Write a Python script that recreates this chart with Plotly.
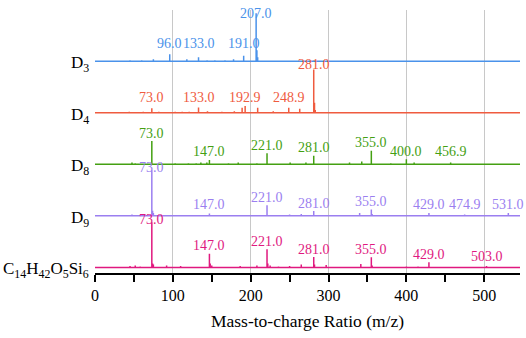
import plotly.graph_objects as go

# ---------------- data ----------------
names = ["C<sub>14</sub>H<sub>42</sub>O<sub>5</sub>Si<sub>6</sub>", "D<sub>9</sub>", "D<sub>8</sub>", "D<sub>4</sub>", "D<sub>3</sub>"]
colors = ["#e0197f", "#9b7ff0", "#44a012", "#ef5b3f", "#4a92ea"]

c14_mz = [45, 51.7, 58, 73, 74, 75, 92, 110, 147, 148, 150, 186.5, 208, 221, 222, 225, 235.7, 250, 265, 281, 282, 297, 341.5, 355, 356, 400, 415, 429, 503]
c14_int = [3, 4, 2, 94, 8, 6, 4, 3, 28.5, 8, 4, 3, 4, 38, 8, 4, 2, 3, 6, 21.5, 6, 5, 7, 21, 4, 2, 2, 10.5, 3]
c14_labels = [73.0, 147.0, 221.0, 281.0, 355.0, 429.0, 503.0]

d9_mz = [47.5, 58, 73, 74, 75, 109.5, 147, 182, 221, 250, 265, 281, 327, 340, 355, 356, 402, 429, 474.9, 531]
d9_int = [3, 2, 95, 10.5, 6, 2, 5, 2, 22, 3, 4, 10, 2, 6, 13, 4, 2, 6, 3, 6]
d9_labels = [73.0, 147.0, 221.0, 281.0, 355.0, 429.0, 474.9, 531.0]

d8_mz = [47.5, 51.7, 73, 103, 120, 130, 136, 143.7, 147, 171.5, 184, 208, 221, 250.7, 271, 281, 327, 342.7, 355, 380, 400, 410, 456.9]
d8_int = [4, 2, 48.5, 2, 2, 2, 4, 4, 9, 2, 4, 2, 23, 4, 4, 18, 4, 6, 28.5, 2, 10.5, 4, 4]
d8_labels = [73.0, 147.0, 221.0, 281.0, 355.0, 400.0, 456.9]

d4_mz = [44, 62, 73, 82, 103, 112, 121, 133, 144.5, 163, 179, 189, 192.9, 209, 229, 248.9, 263, 281, 282, 283]
d4_int = [2, 2, 9.5, 2, 2, 2, 2, 11, 3, 2, 3, 10.5, 14, 10.5, 3, 10.5, 8.5, 90, 21, 6]
d4_labels = [73.0, 133.0, 192.9, 248.9, 281.0]

d3_mz = [45, 60, 75, 96, 118, 133, 144, 154, 167, 178, 191, 207, 208, 209]
d3_int = [2, 2, 4, 14.5, 4, 8.5, 2, 2, 2, 4, 11.5, 100, 23, 8]
d3_labels = [96.0, 133.0, 191.0, 207.0]

x_ticks = [0, 100, 200, 300, 400, 500]
x_title = "Mass-to-charge Ratio (m/z)"

spectra = [
    (c14_mz, c14_int, c14_labels),
    (d9_mz, d9_int, d9_labels),
    (d8_mz, d8_int, d8_labels),
    (d4_mz, d4_int, d4_labels),
    (d3_mz, d3_int, d3_labels),
]

# ---------------- layout parameters ----------------
X_MAX = 546
BASE0 = 11.7
SPACING = 107.5
Y_TOP = 548.5
LABEL_PAD = 16.7
LABEL_CAP = 100
LABEL_MIN = [6, 7.5, 10.5, 14.5, 21]
FONT = "Liberation Serif, Times New Roman, serif"

fig = go.Figure()
annotations = []

for i, ((mz, inten, labels), name, col) in enumerate(zip(spectra, names, colors)):
    off = BASE0 + SPACING * i
    xs, ys = [0], [off]
    for m, h in sorted(zip(mz, inten)):
        xs += [m, m, m]
        ys += [off, off + h, off]
    xs.append(X_MAX)
    ys.append(off)
    fig.add_trace(go.Scatter(x=xs, y=ys, mode="lines", line=dict(color=col, width=1.5),
                             showlegend=False, hoverinfo="skip"))
    for lab in labels:
        j = min(range(len(mz)), key=lambda k: abs(mz[k] - lab))
        h = inten[j]
        yc = off + min(max(h, LABEL_MIN[i]) + LABEL_PAD, LABEL_CAP)
        annotations.append(dict(x=lab, y=yc, xref="x", yref="y", text=f"{lab:.1f}",
                                showarrow=False, xanchor="center", yanchor="middle",
                                font=dict(family=FONT, size=14, color=col)))
    annotations.append(dict(x=0, y=off, xref="paper", yref="y", text=name,
                            showarrow=False, xanchor="right", yanchor="middle",
                            xshift=-4, yshift=-3,
                            font=dict(family=FONT, size=17, color="black")))

fig.update_layout(
    width=526, height=338,
    margin=dict(l=95, r=6, t=10, b=65),
    paper_bgcolor="white", plot_bgcolor="white",
    annotations=annotations,
    font=dict(family=FONT, color="black"),
    xaxis=dict(range=[0, X_MAX], tickvals=x_ticks, ticktext=[str(v) for v in x_ticks],
               showgrid=True, gridcolor="#c8c8c8", gridwidth=1, zeroline=False,
               showline=True, linecolor="black", linewidth=2,
               ticks="outside", ticklen=7, tickwidth=1.5, tickcolor="black",
               minor=dict(dtick=50, tick0=0, ticks="outside", ticklen=7, tickwidth=1.5,
                          tickcolor="black", showgrid=False),
               tickfont=dict(family=FONT, size=16, color="black"),
               title=dict(text=x_title, font=dict(family=FONT, size=17.5, color="black"), standoff=12)),
    yaxis=dict(range=[0, Y_TOP], visible=False, showgrid=False, zeroline=False),
)

fig.write_html("out.html", config={"displayModeBar": False},
               post_script="document.body.style.margin='0';")
